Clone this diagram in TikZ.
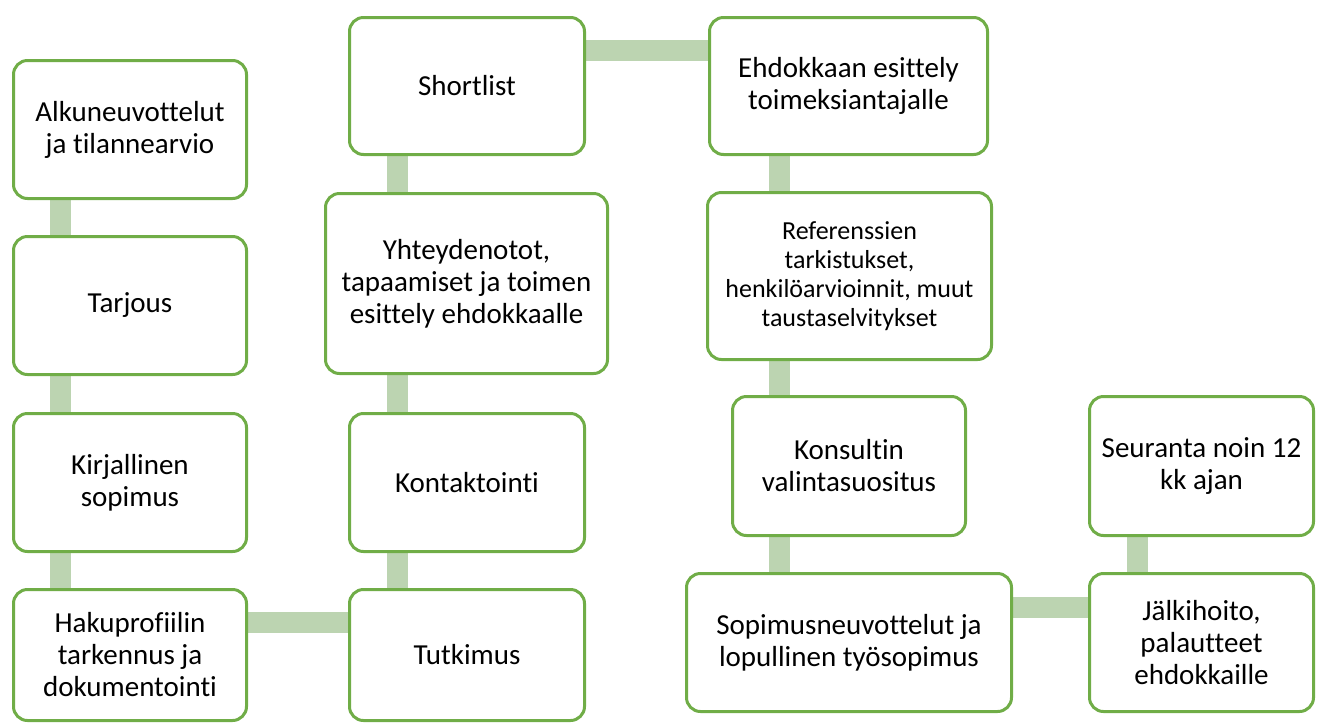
\documentclass[tikz,border=0pt]{standalone}
\usepackage{fontspec}
\setmainfont{Carlito}[Ligatures={NoCommon}]
\usetikzlibrary{backgrounds}
\definecolor{boxgreen}{HTML}{70AD47}
\definecolor{linkgreen}{HTML}{BCD4B1}
\begin{document}
\begin{tikzpicture}[x=1pt,y=-1pt,
  box/.style={draw=boxgreen, line width=3pt, rounded corners=14pt, fill=white,
    align=center, font=\fontsize{29}{32}\selectfont, inner sep=2pt},
  smalltext/.style={font=\fontsize{26}{29}\selectfont},
  link/.style={draw=linkgreen, line width=21pt}]
\useasboundingbox (0,0) rectangle (1317,724);
% column 1
\node[box, minimum width=233pt, minimum height=138pt] (A) at (130,129.5) {Alkuneuvottelut\\ja tilannearvio};
\node[box, minimum width=233pt, minimum height=138pt] (B) at (130,305.5) {Tarjous};
\node[box, minimum width=233pt, minimum height=138pt] (C) at (130,482.5) {Kirjallinen\\sopimus};
\node[box, minimum width=233pt, minimum height=131pt] (D) at (130,655) {Hakuprofiilin\\tarkennus ja\\dokumentointi};
% column 2
\node[box, minimum width=235pt, minimum height=131pt] (E) at (467,655) {Tutkimus};
\node[box, minimum width=235pt, minimum height=138pt] (F) at (467,482.5) {Kontaktointi};
\node[box, minimum width=282pt, minimum height=180pt] (G) at (466.5,283.5) {Yhteydenotot,\\tapaamiset ja toimen\\esittely ehdokkaalle};
\node[box, minimum width=235pt, minimum height=137pt] (H) at (467,86) {Shortlist};
% column 3
\node[box, minimum width=278pt, minimum height=137pt] (I) at (848.5,86) {Ehdokkaan esittely\\toimeksiantajalle};
\node[box, smalltext, minimum width=284pt, minimum height=167pt] (J) at (849.5,276) {Referenssien\\tarkistukset,\\henkilöarvioinnit, muut\\taustaselvitykset};
\node[box, minimum width=233pt, minimum height=139pt] (K) at (849,466) {Konsultin\\valintasuositus};
\node[box, minimum width=325pt, minimum height=138pt] (L) at (849,642.5) {Sopimusneuvottelut ja\\lopullinen työsopimus};
% column 4
\node[box, minimum width=224pt, minimum height=138pt] (M) at (1201.5,642.5) {Jälkihoito,\\palautteet\\ehdokkaille};
\node[box, minimum width=224pt, minimum height=139pt] (N) at (1201.5,466) {Seuranta noin 12\\kk ajan};
% connectors
\coordinate (x1) at (60,0);
\coordinate (x2) at (397,0);
\coordinate (x3) at (779,0);
\coordinate (x4) at (1137,0);
\coordinate (y1) at (0,622);
\coordinate (y2) at (0,50);
\coordinate (y3) at (0,607);
\begin{scope}[on background layer]
\draw[link] (A.south -| x1) -- (B.north -| x1);
\draw[link] (B.south -| x1) -- (C.north -| x1);
\draw[link] (C.south -| x1) -- (D.north -| x1);
\draw[link] (D.east |- y1) -- (E.west |- y1);
\draw[link] (E.north -| x2) -- (F.south -| x2);
\draw[link] (F.north -| x2) -- (G.south -| x2);
\draw[link] (G.north -| x2) -- (H.south -| x2);
\draw[link] (H.east |- y2) -- (I.west |- y2);
\draw[link] (I.south -| x3) -- (J.north -| x3);
\draw[link] (J.south -| x3) -- (K.north -| x3);
\draw[link] (K.south -| x3) -- (L.north -| x3);
\draw[link] (L.east |- y3) -- (M.west |- y3);
\draw[link] (M.north -| x4) -- (N.south -| x4);
\end{scope}
\end{tikzpicture}
\end{document}
